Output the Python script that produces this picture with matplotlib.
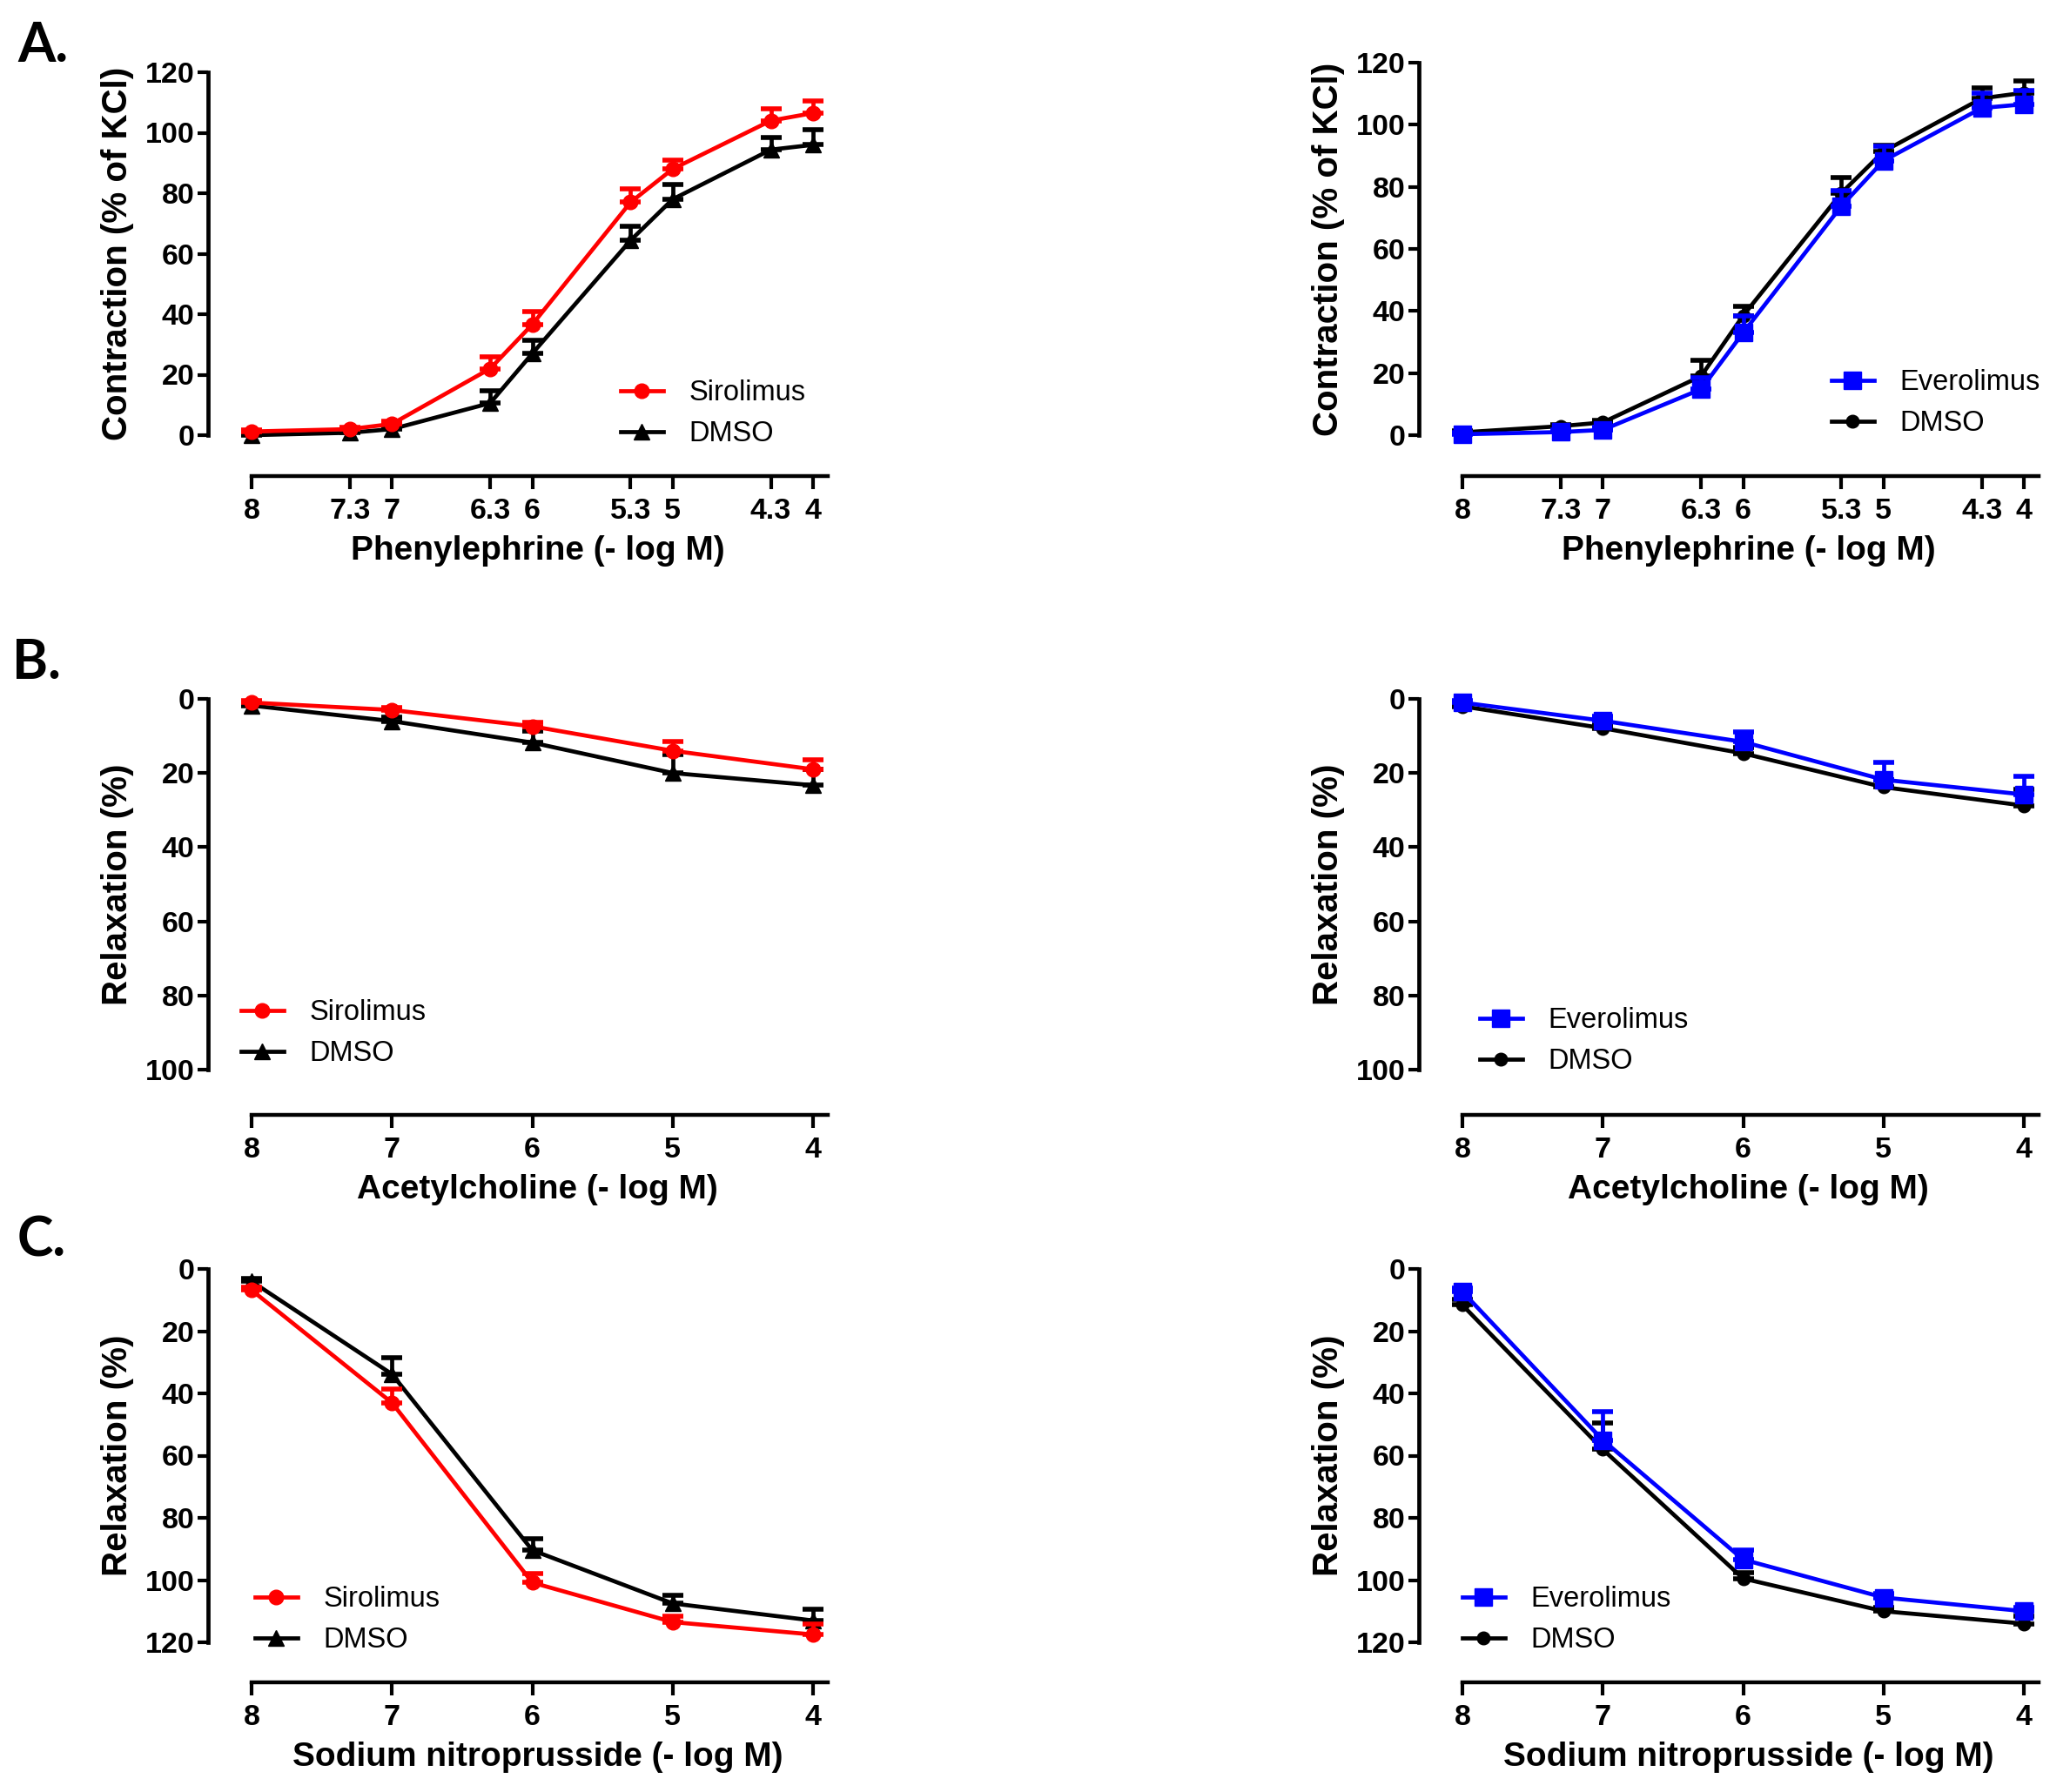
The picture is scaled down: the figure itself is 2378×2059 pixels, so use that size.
import matplotlib
matplotlib.use('Agg')
import matplotlib.pyplot as plt
import numpy as np

W, H = 2378, 2059
plt.rcParams['font.family'] = ['Liberation Sans', 'DejaVu Sans']

# concentrations (- log M)
phe_x = [8, 7.3, 7, 6.3, 6, 5.3, 5, 4.3, 4]
phe_ticks = ['8', '7.3', '7', '6.3', '6', '5.3', '5', '4.3', '4']
ach_x = [8, 7, 6, 5, 4]
snp_x = [8, 7, 6, 5, 4]
int_ticks = ['8', '7', '6', '5', '4']

# A. phenylephrine contraction (% of KCl)
phe_siro = [1.2, 2.0, 3.7, 22, 36.6, 77, 88, 104, 106.5]
phe_siro_err = [0.5, 0.5, 0.8, 4, 4.4, 4.5, 3, 4, 3.9]
phe_dmso_s = [0, 0.8, 2, 10.6, 27, 64.4, 78, 94.4, 96]
phe_dmso_s_err = [0.3, 0.4, 0.6, 4, 4.5, 4.6, 5, 4, 4.9]
phe_evero = [0.3, 1.0, 1.7, 14.8, 33, 73.8, 88.4, 105.4, 106.6]
phe_evero_err = [0.5, 0.6, 0.8, 3.7, 5.5, 4.9, 4.6, 4.9, 4.4]
phe_dmso_e = [0.9, 2.9, 4.1, 19, 38.5, 78, 91.4, 108.5, 110.3]
phe_dmso_e_err = [0.4, 0.6, 0.8, 5, 3.1, 5, 2.1, 3.5, 3.7]

# B. acetylcholine relaxation (%)
ach_siro = [1, 3, 7.4, 14, 19]
ach_siro_err = [0.5, 0.7, 1, 2.5, 2.5]
ach_dmso_s = [1.8, 6, 11.8, 20, 23.3]
ach_dmso_s_err = [0.5, 1, 3, 5, 4.3]
ach_evero = [1, 5.9, 11.6, 21.8, 25.8]
ach_evero_err = [0.5, 1.3, 2.7, 4.6, 4.8]
ach_dmso_e = [2, 7.9, 14.7, 23.8, 28.8]
ach_dmso_e_err = [0.5, 0.9, 1.5, 2, 4.3]

# C. sodium nitroprusside relaxation (%)
snp_siro = [6.8, 43, 100.8, 113.5, 117.5]
snp_siro_err = [0.8, 4.3, 3, 2, 3.5]
snp_dmso_s = [4, 33.8, 90.4, 107.5, 113]
snp_dmso_s_err = [0.8, 5.4, 3.6, 2.5, 3.5]
snp_evero = [7.3, 55, 93.4, 105.6, 110]
snp_evero_err = [1.2, 9, 3, 1.2, 1.2]
snp_dmso_e = [11.6, 58, 99.5, 110, 114]
snp_dmso_e_err = [1.8, 8.5, 1.8, 1.2, 2.5]

RED, BLUE, BLACK = '#ff0000', '#0000ff', '#000000'
LW = 3.4
PX = 100 / 72  # pixels per point

fig = plt.figure(figsize=(W / 100, H / 100), dpi=100)


def panel(col, top_px, bot_px, axis_px, ylim, yticks, x, xticks, xticklabels,
          series, xlabel, ylabel, leg_px, up):
    if col == 0:
        left_px, right_px, x8_px = 239, 951, 289
    else:
        left_px, right_px, x8_px = 1630, 2342, 1680
    ppu = 161.25
    ax = fig.add_axes([left_px / W, 1 - bot_px / H,
                       (right_px - left_px) / W, (bot_px - top_px) / H])
    ax.set_xlim(8 + (x8_px - left_px) / ppu,
                4 - (right_px - (x8_px + 4 * ppu)) / ppu)
    ax.set_ylim(*ylim)
    handles = []
    for y, err, color, marker, label, ms in series:
        err = np.asarray(err)
        zero = np.zeros_like(err)
        yerr = [zero, err] if up else [err, zero]
        ax.errorbar(x, y, yerr=yerr, fmt='none', ecolor=color, elinewidth=LW,
                    capsize=8.5, capthick=4, clip_on=False)
        h, = ax.plot(x, y, color=color, lw=LW, marker=marker, ms=ms,
                     label=label, clip_on=False)
        handles.append(h)
    for s in ['top', 'right']:
        ax.spines[s].set_visible(False)
    ax.spines['left'].set_linewidth(3.4)
    ax.spines['bottom'].set_linewidth(3.2)
    ax.spines['bottom'].set_position(('outward', (axis_px - bot_px) / PX))
    ax.spines['bottom'].set_bounds(8.0, ax.get_xlim()[1])
    ax.set_xticks(xticks)
    ax.set_xticklabels(xticklabels)
    ax.set_yticks(yticks)
    ax.tick_params(axis='y', direction='out', length=9, width=3, pad=2,
                   labelsize=24.5)
    ax.tick_params(axis='x', direction='out', length=11, width=3, pad=7,
                   labelsize=24.5)
    for t in ax.get_xticklabels() + ax.get_yticklabels():
        t.set_fontweight('bold')
    xc = x8_px + 2 * ppu + 6
    fig.text(xc / W, 1 - (axis_px + 86) / H, xlabel,
             ha='center', va='center', fontsize=28, fontweight='bold')
    fig.text((left_px - 104) / W, 1 - (top_px + bot_px) / 2 / H, ylabel,
             ha='center', va='center', rotation=90, fontsize=29,
             fontweight='bold')
    ax.legend(handles=handles[::-1], loc='upper left', frameon=False,
              bbox_to_anchor=(leg_px[0] / W, 1 - leg_px[1] / H),
              bbox_transform=fig.transFigure, borderaxespad=0, borderpad=0,
              handlelength=1.5, handletextpad=0.9, labelspacing=0.5,
              prop={'size': 23.5})
    return ax


# row A
panel(0, 83, 500, 547, (0, 120), range(0, 121, 20), phe_x, phe_x, phe_ticks,
      [(phe_dmso_s, phe_dmso_s_err, BLACK, '^', 'DMSO', 13),
       (phe_siro, phe_siro_err, RED, 'o', 'Sirolimus', 12)],
      'Phenylephrine (- log M)', 'Contraction (% of KCl)', (713, 436), True)
panel(1, 72, 500, 547, (0, 120), range(0, 121, 20), phe_x, phe_x, phe_ticks,
      [(phe_dmso_e, phe_dmso_e_err, BLACK, 'o', 'DMSO', 10.5),
       (phe_evero, phe_evero_err, BLUE, 's', 'Everolimus', 14)],
      'Phenylephrine (- log M)', 'Contraction (% of KCl)', (2104, 424), True)

# row B
panel(0, 803, 1229, 1281, (100, 0), range(0, 101, 20), ach_x, ach_x, int_ticks,
      [(ach_dmso_s, ach_dmso_s_err, BLACK, '^', 'DMSO', 13),
       (ach_siro, ach_siro_err, RED, 'o', 'Sirolimus', 12)],
      'Acetylcholine (- log M)', 'Relaxation (%)', (277, 1148), False)
panel(1, 803, 1229, 1281, (100, 0), range(0, 101, 20), ach_x, ach_x, int_ticks,
      [(ach_dmso_e, ach_dmso_e_err, BLACK, 'o', 'DMSO', 10.5),
       (ach_evero, ach_evero_err, BLUE, 's', 'Everolimus', 14)],
      'Acetylcholine (- log M)', 'Relaxation (%)', (1700, 1157), False)

# row C
panel(0, 1458, 1887, 1933, (120, 0), range(0, 121, 20), snp_x, snp_x, int_ticks,
      [(snp_dmso_s, snp_dmso_s_err, BLACK, '^', 'DMSO', 13),
       (snp_siro, snp_siro_err, RED, 'o', 'Sirolimus', 12)],
      'Sodium nitroprusside (- log M)', 'Relaxation (%)', (293, 1822), False)
panel(1, 1458, 1887, 1933, (120, 0), range(0, 121, 20), snp_x, snp_x, int_ticks,
      [(snp_dmso_e, snp_dmso_e_err, BLACK, 'o', 'DMSO', 10.5),
       (snp_evero, snp_evero_err, BLUE, 's', 'Everolimus', 14)],
      'Sodium nitroprusside (- log M)', 'Relaxation (%)', (1680, 1822), False)

for letter, px, py in [('A.', 20, 53), ('B.', 14, 762), ('C.', 20, 1425)]:
    fig.text(px / W, 1 - py / H, letter, ha='left', va='center', fontsize=45,
             fontweight='bold', family=['Lato', 'DejaVu Sans'])

fig.savefig('out.png', dpi=100)
